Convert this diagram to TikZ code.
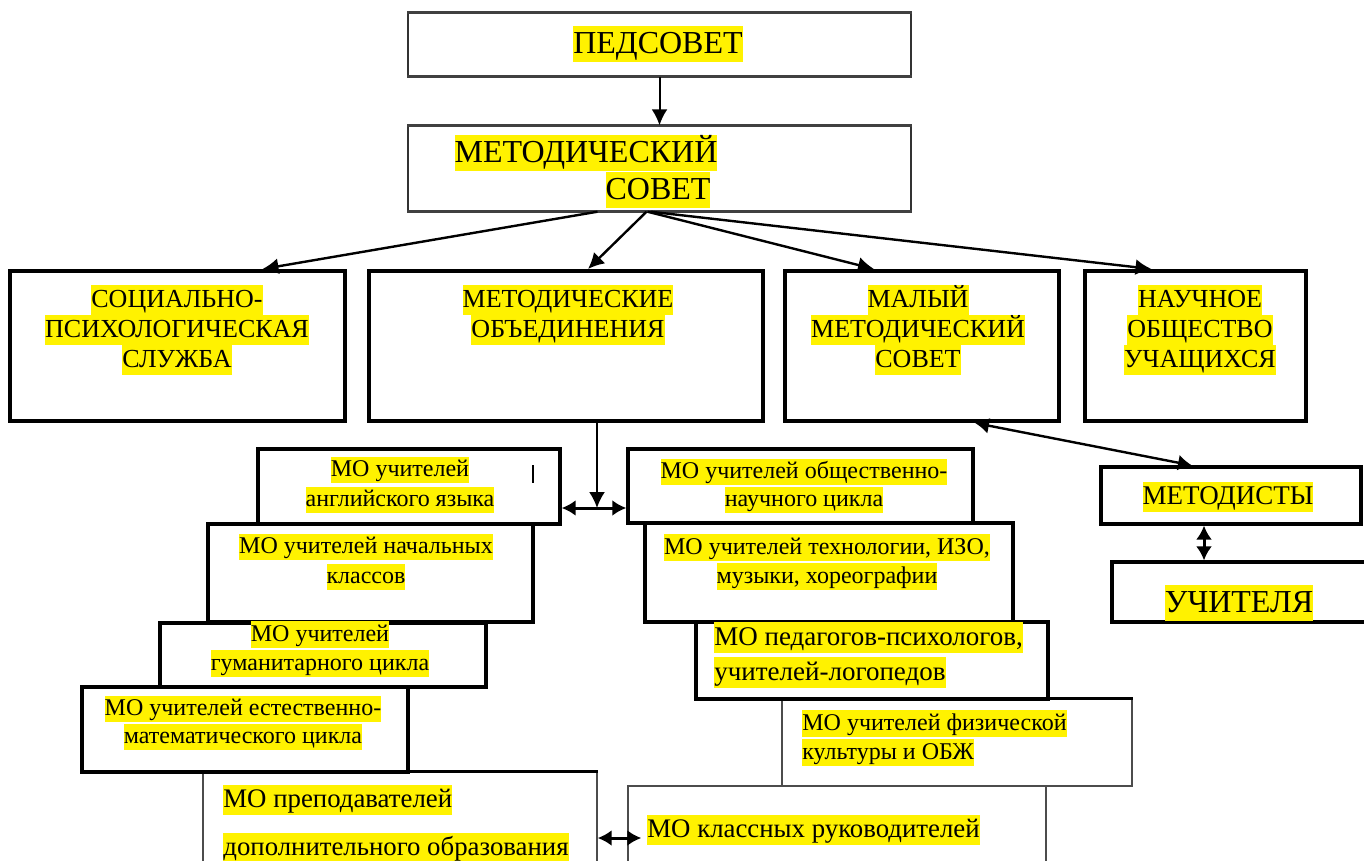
\documentclass[tikz,border=0pt]{standalone}
\usepackage{fontspec}
\setmainfont{Liberation Serif}
\usetikzlibrary{arrows.meta}
\usetikzlibrary{calc}
\usetikzlibrary{fit}

\setlength{\fboxsep}{0pt}
\newcommand{\hl}[1]{\colorbox{yellow}{\rule[-.27em]{0pt}{1.12em}#1}}

\tikzset{
    topbox/.style={draw=black!80, line width=0.7pt, inner sep=0pt},
    topedge/.style={draw=black!75, line width=1.4pt},
    rowbox/.style={draw, line width=2pt, inner sep=0pt},
    mobox/.style={draw, line width=1.7pt, inner sep=0pt},
    thinbox/.style={draw=black!70, line width=0.7pt, inner sep=0pt},
    txt/.style={inner sep=0pt, align=center},
    arr/.style={-{Latex[length=8pt,width=8pt]}, line width=1.2pt},
    darr/.style={{Latex[length=7pt,width=8pt]}-{Latex[length=7pt,width=8pt]}, line width=1.5pt},
}

\begin{document}
\begin{tikzpicture}[x=0.5pt,y=-0.5pt]
    \useasboundingbox (0,0) rectangle (1364,861);
    \clip (0,0) rectangle (1364,861);

    \node[thinbox, fit={(782,699) (1132,786)}] (fiz) {};
    \node[thinbox, fit={(203,772) (597,900)}] (dop) {};
    \node[thinbox, fit={(628,786) (1046,900)}] (kl) {};

    \node[topbox, fit={(408,13) (911,76)}] (ped) {};
    \node[topbox, fit={(408,126) (911,211)}] (met) {};
    \draw[topedge] (ped.north west) -- (ped.north east);
    \draw[topedge] (ped.south west) -- (ped.south east);
    \draw[topedge] (met.north west) -- (met.north east);
    \draw[topedge] (met.south west) -- (met.south east);

    \node[rowbox, fit={(10,271) (345,421)}] (soc) {};
    \node[rowbox, fit={(369,271) (763,421)}] (metob) {};
    \node[rowbox, fit={(785,271) (1059,421)}] (mal) {};
    \node[rowbox, fit={(1085,271) (1306,421)}] (nauch) {};

    \node[mobox, fit={(258,449) (560,524)}] (eng) {};
    \node[mobox, fit={(628,449) (973,523)}] (obs) {};
    \node[mobox, fit={(208,524) (533,622)}] (nach) {};
    \node[mobox, fit={(645,523) (1013,622)}] (tech) {};
    \node[mobox, fit={(160,623) (486,687)}] (gum) {};
    \node[mobox, fit={(696,622) (1048,699)}] (psy) {};
    \node[mobox, fit={(82,687) (408,772)}] (est) {};
    \draw[line width=1.7pt] (dop.north west) -- (dop.north east);
    \draw[line width=1.7pt] (fiz.north west) -- (fiz.north east);

    \node[mobox, line width=1.6pt, fit={(1101,467) (1361,524)}] (metod) {};
    \node[mobox, line width=1.6pt, fit={(1112,562) (1390,622)}] (uch) {};

    \node[txt, font=\fontsize{16}{18}\selectfont] (pedT) at (658,44) {\hl{ПЕДСОВЕТ}};
    \node[txt, font=\fontsize{16}{18}\selectfont] (metT1) at (586,153) {\hl{МЕТОДИЧЕСКИЙ}};
    \node[txt, font=\fontsize{16}{18}\selectfont] (metT2) at (658,190) {\hl{СОВЕТ}};

    \node[txt, font=\fontsize{13}{15}\selectfont] (socT) at (177,330)
        {\hl{СОЦИАЛЬНО-}\\\hl{ПСИХОЛОГИЧЕСКАЯ}\\\hl{СЛУЖБА}};
    \node[txt, font=\fontsize{13}{15}\selectfont] (metobT) at (568,315)
        {\hl{МЕТОДИЧЕСКИЕ}\\\hl{ОБЪЕДИНЕНИЯ}};
    \node[txt, font=\fontsize{13}{15}\selectfont] (malT) at (918,330)
        {\hl{МАЛЫЙ}\\\hl{МЕТОДИЧЕСКИЙ}\\\hl{СОВЕТ}};
    \node[txt, font=\fontsize{13}{15}\selectfont] (nauchT) at (1200,330)
        {\hl{НАУЧНОЕ}\\\hl{ОБЩЕСТВО}\\\hl{УЧАЩИХСЯ}};

    \node[txt, font=\fontsize{12}{15}\selectfont] (engT) at (400,485)
        {\hl{МО учителей}\\\hl{английского языка}};
    \node[txt, font=\fontsize{12}{14}\selectfont] (obsT) at (804,486)
        {\hl{МО учителей общественно-}\\\hl{научного цикла}};
    \node[txt, font=\fontsize{12}{15}\selectfont] (nachT) at (366,562)
        {\hl{МО учителей начальных}\\\hl{классов}};
    \node[txt, font=\fontsize{12}{14.5}\selectfont] (techT) at (827,562)
        {\hl{МО учителей технологии, ИЗО,}\\\hl{музыки, хореографии}};
    \node[txt, font=\fontsize{12}{13}\selectfont] (gumT) at (320,649)
        {\hl{МО учителей}\\\hl{гуманитарного цикла}};
    \node[txt, font=\fontsize{12}{14}\selectfont] (estT) at (243,723)
        {\hl{МО учителей естественно-}\\\hl{математического цикла}};
    \node[txt, align=left, anchor=west, font=\fontsize{13.5}{17.5}\selectfont] (psyT) at (714,655)
        {\hl{МО педагогов-психологов,}\\\hl{учителей-логопедов}};
    \node[txt, align=left, anchor=west, font=\fontsize{12}{14.5}\selectfont] (fizT) at (802,738)
        {\hl{МО учителей физической}\\\hl{культуры и ОБЖ}};
    \node[txt, align=left, anchor=west, font=\fontsize{13.4}{24}\selectfont] (dopT) at (223,824)
        {\hl{МО преподавателей}\\\hl{дополнительного образования}};
    \node[txt, anchor=west, font=\fontsize{13.4}{15}\selectfont] (klT) at (647,830)
        {\hl{МО классных руководителей}};

    \node[txt, font=\fontsize{13.5}{15}\selectfont] (metodT) at (1228,497) {\hl{МЕТОДИСТЫ}};
    \node[txt, font=\fontsize{16}{18}\selectfont] (uchT) at (1239,603) {\hl{УЧИТЕЛЯ}};

    \draw[arr, line width=1pt] (ped.south) -- (met.north);
    \draw[arr] ($(met.south)+(-62,0)$) -- ($(soc.north)+(85,0)$);
    \draw[arr] ($(met.south)+(-13,0)$) -- ($(metob.north)+(22,0)$);
    \draw[arr] ($(met.south)+(-12,0)$) -- ($(mal.north)+(-48,0)$);
    \draw[arr] ($(met.south)+(-9,0)$) -- ($(nauch.north)+(-44,0)$);

    \coordinate (j) at (597,508);
    \draw[arr, line width=1pt] (metob.south -| j) -- (j);
    \draw[darr] (eng.east |- j) -- (obs.west |- j);
    \draw[line width=1.2pt] (533,465) -- (533,483);

    \draw[darr, line width=1.2pt] ($(mal.south)+(53,0)$) -- ($(metod.north)+(-39,0)$);
    \coordinate (u) at (1204,540);
    \draw[darr] (metod.south -| u) -- (uch.north -| u);

    \coordinate (k) at (612,838);
    \draw[darr] (dop.east |- k) -- ($(kl.west |- k)+(14,0)$);
\end{tikzpicture}
\end{document}
